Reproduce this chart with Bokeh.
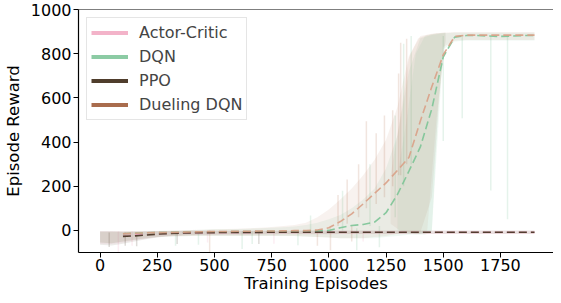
from bokeh.plotting import figure
from bokeh.models import Range1d, FixedTicker, Legend, LegendItem, Span
from bokeh.embed import file_html
from bokeh.resources import INLINE

# ---------------- data ----------------
series_names = ["Actor-Critic", "DQN", "PPO", "Dueling DQN"]
series_colors = ["#ee9fbd", "#6fbf8e", "#4a3828", "#b0704e"]
legend_colors = ["#f3b3c9", "#8ccba4", "#4f3d2c", "#a96c4d"]
smooth_colors = ["#f0a8c0", "#7cc496", "#4a3828", "#d9a086"]

x_ticks = [0, 250, 500, 750, 1000, 1250, 1500, 1750]
y_ticks = [0, 200, 400, 600, 800, 1000]

# raw-reward envelopes (episode checkpoints)
raw_ep = [0, 50, 100, 150, 200, 250, 300, 350, 400, 450, 500, 550, 600, 650, 700,
          750, 800, 850, 900, 950, 1000, 1050, 1100, 1150, 1200, 1250, 1300, 1350,
          1400, 1450, 1500, 1550, 1600, 1650, 1700, 1750, 1800, 1850, 1899]

ac_low = [-60, -62, -55, -45, -38, -30, -25, -22, -20, -20, -18, -18, -18, -18, -16,
          -16, -16, -16, -16, -16, -16, -16, -16, -16, -16, -16, -16, -16, -16, -16,
          -16, -16, -16, -16, -16, -16, -16, -16, -16]
ac_high = [-3, -3, -4, -4, -4, -3, -3, -2, -2, -2, -2, -2, -2, -2, -2, -1, -1, -1, -1,
           -1, -1, -1, -1, -1, -1, -1, -1, -1, -1, -1, -1, -1, -1, -1, -1, -1, -1, -1, -1]

dqn_low = [-55, -58, -50, -42, -35, -30, -28, -26, -25, -25, -25, -25, -25, -25, -25,
           -25, -25, -25, -28, -30, -32, -35, -35, -35, -35, -30, -25, -20, -15, 0,
           820, 855, 860, 860, 860, 860, 860, 860, 860]
dqn_high = [-5, -5, -5, -4, -4, -3, -2, 0, 2, 3, 5, 5, 6, 8, 10, 12, 14, 18, 25, 35,
            50, 70, 100, 140, 190, 280, 430, 720, 870, 885, 892, 895, 895, 895, 895,
            895, 895, 895, 895]

ppo_low = [-65, -68, -60, -50, -40, -32, -26, -24, -22, -20, -20, -19, -19, -18, -18,
           -18, -17, -17, -17, -17, -17, -16, -16, -16, -16, -16, -16, -16, -16, -16,
           -16, -16, -16, -16, -16, -16, -16, -16, -16]
ppo_high = [-5, -5, -6, -6, -5, -4, -3, -3, -2, -2, -2, -2, -1, -1, -1, -1, -1, -1, 0,
            0, 0, 0, 0, 0, 0, 0, 0, 0, 0, 0, 0, 0, 0, 0, 0, 0, 0, 0, 0]

dd_low = [-55, -58, -50, -42, -35, -30, -28, -26, -25, -25, -25, -25, -25, -25, -25,
          -25, -25, -25, -28, -30, -32, -35, -35, -35, -30, -25, -15, -10, -10, 150,
          830, 860, 862, 862, 862, 862, 862, 862, 862]
dd_high = [-5, -5, -5, -4, -4, -3, -2, 0, 2, 3, 5, 6, 8, 10, 12, 15, 20, 25, 35, 60,
           95, 140, 190, 250, 320, 410, 560, 790, 880, 890, 895, 898, 898, 898, 898,
           898, 898, 898, 898]

# densest part of the raw traces
dqn_core_ep = [1300, 1340, 1380, 1420, 1450, 1480, 1510]
dqn_core_low = [0, -10, -20, -20, -10, 600, 860]
dqn_core_high = [250, 500, 800, 880, 888, 892, 895]
dd_core_ep = [1270, 1310, 1350, 1390, 1430, 1470, 1510]
dd_core_low = [30, 0, -10, -15, 0, 500, 860]
dd_core_high = [250, 500, 780, 870, 885, 892, 896]

# isolated raw spikes (episode, from, to)
ac_spike_ep = [80, 140, 470, 760, 1150]
ac_spike_from = [-5, -5, -5, -5, -5]
ac_spike_to = [-100, -70, -55, -60, -50]

dqn_spike_ep = [330, 430, 621, 665, 865, 920, 1060, 1122, 1180, 1221, 1290, 1327,
                1360, 1500, 1583, 1708, 1781]
dqn_spike_from = [-5, -5, -5, -5, -5, -5, 0, 10, 20, 20, 60, 200, 300, 880, 880, 880,
                  880]
dqn_spike_to = [-70, -65, -84, -62, -67, 67, 180, -90, 300, -76, 520, 845, 880, 405,
                508, 181, 51]

ppo_spike_ep = [40, 110, 160, 337, 694]
ppo_spike_from = [-10, -10, -10, -10, -10]
ppo_spike_to = [-75, -70, -72, -62, -62]

dd_spike_ep = [479, 950, 1007, 1040, 1080, 1100, 1130, 1164, 1207, 1243, 1279, 1305,
               1314, 1340]
dd_spike_from = [0, 0, 10, 20, 30, 20, 60, 100, 120, 150, 200, 250, 250, 300]
dd_spike_to = [-100, -70, -90, 160, 230, -50, 300, 494, 440, 520, 544, 710, 850, 868]

# moving-average curves
smooth_ep = [100, 150, 200, 250, 300, 350, 400, 450, 500, 550, 600, 650, 700, 750,
             800, 850, 900, 950, 1000, 1050, 1100, 1150, 1200, 1250, 1300, 1350, 1400,
             1450, 1500, 1550, 1600, 1650, 1700, 1750, 1800, 1850, 1899]
ac_smooth = [-20, -19, -17, -15, -13, -12, -11, -11, -10, -10, -10, -10, -9, -9, -9,
             -9, -9, -9, -9, -9, -9, -9, -9, -9, -9, -9, -9, -9, -9, -9, -9, -9, -9,
             -9, -9, -9, -9]
dqn_smooth = [-15, -13, -11, -10, -9, -8, -7, -7, -6, -6, -5, -5, -5, -4, -4, -3, -2,
              -2, 0, 12, 22, 27, 38, 80, 163, 268, 378, 550, 785, 875, 882, 882, 880,
              878, 880, 882, 882]
ppo_smooth = [-27, -25, -21, -17, -14, -12, -11, -10, -10, -9, -9, -9, -9, -8, -8, -8,
              -8, -8, -8, -8, -8, -8, -8, -8, -8, -8, -8, -8, -8, -8, -8, -8, -8, -8,
              -8, -8, -8]
dd_smooth = [-15, -13, -11, -10, -9, -8, -7, -6, -5, -5, -4, -4, -3, -3, -2, -1, -1,
             2, 12, 40, 75, 120, 168, 215, 272, 330, 495, 650, 795, 878, 884, 884, 884,
             884, 884, 884, 884]

# ---------------- figure ----------------
FONT = "DejaVu Sans"
p = figure(width=553, height=295, output_backend="svg", toolbar_location=None,
           x_range=Range1d(-94.3, 1982), y_range=Range1d(-100, 1000),
           min_border_left=68, min_border_right=0, min_border_top=9,
           min_border_bottom=40)
p.outline_line_color = None
p.grid.visible = False
p.background_fill_color = "white"

lows = [ac_low, dqn_low, ppo_low, dd_low]
highs = [ac_high, dqn_high, ppo_high, dd_high]
sp_eps = [ac_spike_ep, dqn_spike_ep, ppo_spike_ep, dd_spike_ep]
sp_from = [ac_spike_from, dqn_spike_from, ppo_spike_from, dd_spike_from]
sp_to = [ac_spike_to, dqn_spike_to, ppo_spike_to, dd_spike_to]
smooths = [ac_smooth, dqn_smooth, ppo_smooth, dd_smooth]
smooth_alpha = [0.9, 0.9, 0.95, 0.9]
band_alpha = [0.12, 0.1, 0.1, 0.09]

items = []
for i, name in enumerate(series_names):
    c = series_colors[i]
    p.varea(x=raw_ep, y1=lows[i], y2=highs[i], fill_color=c, fill_alpha=band_alpha[i])
    p.segment(x0=sp_eps[i], y0=sp_from[i], x1=sp_eps[i], y1=sp_to[i],
              line_color=c, line_alpha=0.18, line_width=1.5)
p.varea(x=dqn_core_ep, y1=dqn_core_low, y2=dqn_core_high,
        fill_color=series_colors[1], fill_alpha=0.09)
p.varea(x=dd_core_ep, y1=dd_core_low, y2=dd_core_high,
        fill_color=series_colors[3], fill_alpha=0.08)

for i, name in enumerate(series_names):
    p.line(x=smooth_ep, y=smooths[i], line_color=smooth_colors[i],
           line_alpha=smooth_alpha[i], line_width=1.6, line_dash="8 4")
    r = p.line(x=[float("nan")], y=[float("nan")], line_color=legend_colors[i],
               line_width=4)
    items.append(LegendItem(label=name, renderers=[r]))

legend = Legend(items=items, location="top_left", margin=8, padding=4,
                spacing=3, glyph_width=37, glyph_height=21, label_height=21,
                label_standoff=11, label_text_font=FONT, label_text_font_size="16px",
                border_line_color="#cccccc", border_line_width=1,
                background_fill_alpha=0.8)
p.add_layout(legend)

p.add_layout(Span(location=1000, dimension="width", line_color="black", line_width=1.2))

for ax in (p.xaxis[0], p.yaxis[0]):
    ax.major_label_text_font = FONT
    ax.major_label_text_font_size = "16px"
    ax.major_label_text_color = "black"
    ax.axis_label_text_font = FONT
    ax.axis_label_text_font_size = "16.5px"
    ax.axis_label_text_font_style = "normal"
    ax.axis_label_text_color = "black"
    ax.axis_line_color = "black"
    ax.axis_line_width = 1.2
    ax.major_tick_line_color = "black"
    ax.major_tick_out = 5
    ax.major_tick_in = 0
    ax.minor_tick_line_color = None

p.xaxis.ticker = FixedTicker(ticks=x_ticks)
p.yaxis.ticker = FixedTicker(ticks=y_ticks)
p.xaxis.axis_label = "Training Episodes"
p.yaxis.axis_label = "Episode Reward"
p.xaxis.major_label_standoff = 1
p.xaxis.axis_label_standoff = 0
p.yaxis.major_label_standoff = 2
p.yaxis.axis_label_standoff = 5

open("out.html", "w").write(file_html(p, INLINE))
